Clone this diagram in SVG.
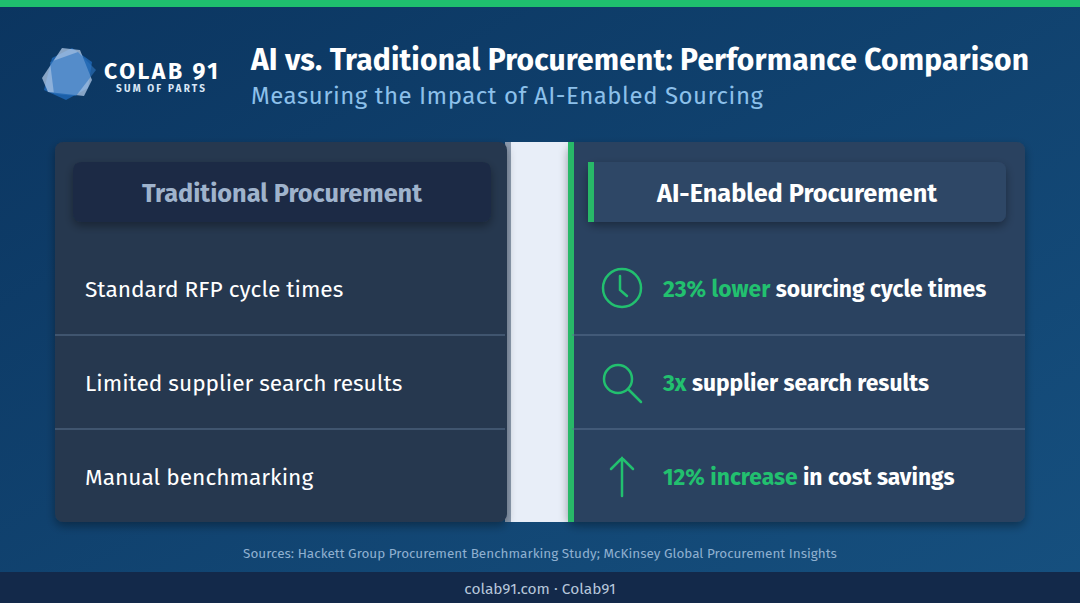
<svg xmlns="http://www.w3.org/2000/svg" width="1080" height="603" viewBox="0 0 1080 603">
<defs>
<linearGradient id="bg" x1="0" y1="0" x2="1" y2="1"><stop offset="0" stop-color="#0b3560"/><stop offset="1" stop-color="#16507f"/></linearGradient>
<filter id="sh" x="-10%" y="-10%" width="120%" height="130%"><feDropShadow dx="0" dy="4" stdDeviation="5" flood-color="#000" flood-opacity="0.35"/></filter>
<style>
text{font-family:"Fira Sans","Open Sans","Noto Sans",sans-serif}
.row{fill:#ffffff;font-size:22.7px}
.ai{fill:#ffffff;font-size:22.8px;font-weight:700}
.g{fill:#22c06f}
.ic{fill:none;stroke:#22c06f;stroke-width:2.5;stroke-linecap:round}
.div{stroke:#5b7290;stroke-width:1}
</style>
</defs>
<rect width="1080" height="603" fill="url(#bg)"/>
<rect width="1080" height="7" fill="#1fbf6e"/>
<g id="logo">
<path d="M52 58 L72 48 L92 62 L88 88 L66 100 L44 90 Z" fill="#1b5fa8"/>
<path d="M62 48 L80 50 L92 80 L84 96 L48 92 L42 78 Z" fill="#bcd3ef" opacity="0.7"/>
<path d="M50 62 L78 52 L96 70 L76 96 L54 94 Z" fill="#2f74c0" opacity="0.6"/>
<text x="104" y="79" font-size="23" font-weight="700" fill="#fff" font-family="DejaVu Sans Mono,monospace" textLength="114">COLAB 91</text>
<text x="116" y="92" font-size="10" font-weight="700" fill="#d8e6f6" font-family="DejaVu Sans Mono,monospace" textLength="89">SUM OF PARTS</text>
</g>
<text x="251" y="70" font-size="30" font-weight="700" fill="#fff" textLength="778">AI vs. Traditional Procurement: Performance Comparison</text>
<text x="251" y="104" font-size="24" fill="#8cc0ea" textLength="512">Measuring the Impact of AI-Enabled Sourcing</text>
<rect x="505" y="142" width="66" height="380" fill="#e8eef8"/>
<rect x="505" y="142" width="6" height="380" fill="#8d9cb0"/>
<g id="left">
<rect x="55" y="142" width="452" height="380" rx="8" fill="#25384f" filter="url(#sh)"/>
<rect x="73" y="162" width="418" height="60" rx="8" fill="#1c2c45" filter="url(#sh)"/>
<text x="282" y="202" text-anchor="middle" font-size="25.3" font-weight="700" fill="#9fb3cc">Traditional Procurement</text>
<line class="div" x1="55" y1="335" x2="505" y2="335"/>
<line class="div" x1="55" y1="429" x2="505" y2="429"/>
<text class="row" x="85" y="297">Standard RFP cycle times</text>
<text class="row" x="85" y="391">Limited supplier search results</text>
<text class="row" x="85" y="485">Manual benchmarking</text>
</g>
<g id="right">
<rect x="568" y="142" width="457" height="380" rx="8" fill="#2a4360" filter="url(#sh)"/>
<rect x="568" y="142" width="6" height="380" fill="#28b868"/>
<rect x="588" y="162" width="418" height="60" rx="8" fill="#2e4766" filter="url(#sh)"/>
<path d="M594 162 h-6 v60 h6 Z" fill="#28b868"/>
<text x="797" y="202" text-anchor="middle" font-size="25.3" font-weight="700" fill="#fff">AI-Enabled Procurement</text>
<line class="div" x1="572" y1="335" x2="1025" y2="335"/>
<line class="div" x1="572" y1="429" x2="1025" y2="429"/>
<g id="icons">
<circle class="ic" cx="622" cy="288" r="19"/>
<path class="ic" d="M620 276 V290 L627 296"/>
<circle class="ic" cx="618" cy="379" r="14"/>
<path class="ic" d="M628 389 L641 402"/>
<path class="ic" d="M622 496 V458 M611 469 L622 458 L633 469"/>
</g>
<text class="ai" x="663" y="297"><tspan class="g">23% lower</tspan> sourcing cycle times</text>
<text class="ai" x="663" y="391"><tspan class="g">3x</tspan> supplier search results</text>
<text class="ai" x="663" y="485"><tspan class="g">12% increase</tspan> in cost savings</text>
</g>
<text x="540" y="558" text-anchor="middle" font-size="13.5" fill="#8fb0d0">Sources: Hackett Group Procurement Benchmarking Study; McKinsey Global Procurement Insights</text>
<rect x="0" y="572" width="1080" height="31" fill="#13294a"/>
<text x="540" y="594" text-anchor="middle" font-size="15.5" fill="#b6c6da">colab91.com · Colab91</text>
</svg>
